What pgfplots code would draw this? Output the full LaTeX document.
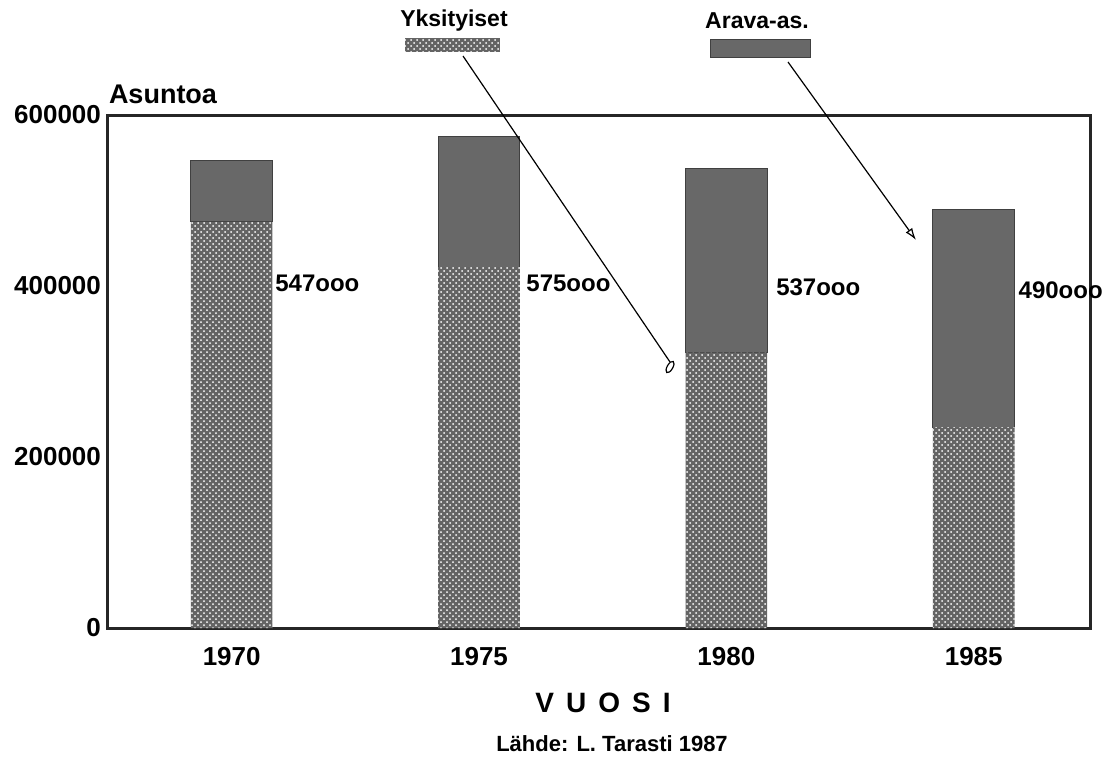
\documentclass[border=0pt]{standalone}
\usepackage{pgfplots}
\pgfplotsset{compat=1.18}
\usepackage{fontspec}
\setmainfont{Liberation Sans}
\usetikzlibrary{patterns,arrows.meta}

\definecolor{arava}{RGB}{104,104,104}
\definecolor{yks}{RGB}{100,100,100}

\tikzset{
  yksfill/.style={fill=yks, postaction={pattern=crosshatch dots, pattern color=white}},
  aravafill/.style={fill=arava, draw=black!75, line width=0.5pt},
}

\begin{document}
\begin{tikzpicture}
\useasboundingbox (0,0) rectangle (553.5pt,378.5pt);
\begin{axis}[
  at={(54pt,64.5pt)}, anchor=south west,
  scale only axis, width=491pt, height=256.5pt,
  ybar stacked, bar width=0.33,
  xmin=-0.5, xmax=3.47, ymin=0, ymax=600000,
  xtick={0,1,2,3}, xticklabels={1970,1975,1980,1985},
  ytick={0,200000,400000,600000},
  scaled y ticks=false,
  /pgf/number format/assume math mode=true,
  yticklabel style={/pgf/number format/fixed, /pgf/number format/1000 sep={}},
  ticklabel style={font=\bfseries\fontsize{13}{13}\selectfont},
  xticklabel style={yshift=-6pt},
  major tick length=0pt,
  axis line style={line width=1.5pt, black!85},
  clip=false,
]
% Yksityiset (private) dwellings
\addplot[yksfill, draw=none] coordinates {(0,475000) (1,422000) (2,322000) (3,235000)};
% Arava-financed dwellings
\addplot[aravafill] coordinates {(0,72000) (1,153000) (2,215000) (3,255000)};

\node[anchor=west, inner sep=0pt, font=\bfseries\fontsize{12}{12}\selectfont] at (axis cs:0.175,403500) {547ooo};
\node[anchor=west, inner sep=0pt, font=\bfseries\fontsize{12}{12}\selectfont] at (axis cs:1.19,403500) {575ooo};
\node[anchor=west, inner sep=0pt, font=\bfseries\fontsize{12}{12}\selectfont] at (axis cs:2.2,399000) {537ooo};
\node[anchor=west, inner sep=0pt, font=\bfseries\fontsize{12}{12}\selectfont] at (axis cs:3.18,395000) {490ooo};
\end{axis}

% axis title
\node[font=\bfseries\fontsize{13.5}{13.5}\selectfont] at (81.5pt,331.5pt) {Asuntoa};

% legend keys
\node[font=\bfseries\fontsize{11.5}{11.5}\selectfont] at (227pt,368pt) {Yksityiset};
\path[yksfill] (202.5pt,352.5pt) rectangle (250pt,359.5pt);
\node[font=\bfseries\fontsize{11.5}{11.5}\selectfont] at (378.5pt,368pt) {Arava-as.};
\path[aravafill] (355pt,349.5pt) rectangle (405pt,358.5pt);

% leader lines from the keys to the bars
\draw[line width=0.6pt] (231.5pt,350.5pt) -- (335pt,197.5pt);
\draw[line width=0.6pt, rotate around={60:(335pt,195pt)}] (335pt,195pt) ellipse (3.2pt and 1.4pt);
\draw[line width=0.6pt, -{Latex[open,length=6pt,width=4pt]}] (394pt,347.5pt) -- (458pt,258.5pt);

% x axis title and source
\node[font=\bfseries\fontsize{14}{14}\selectfont] at (301.5pt,27pt) {V\hspace{6pt}U\hspace{6pt}O\hspace{6pt}S\hspace{6pt}I};
\node[font=\bfseries\fontsize{11}{11}\selectfont] at (306pt,6.5pt) {Lähde: L. Tarasti 1987};
\end{tikzpicture}
\end{document}
